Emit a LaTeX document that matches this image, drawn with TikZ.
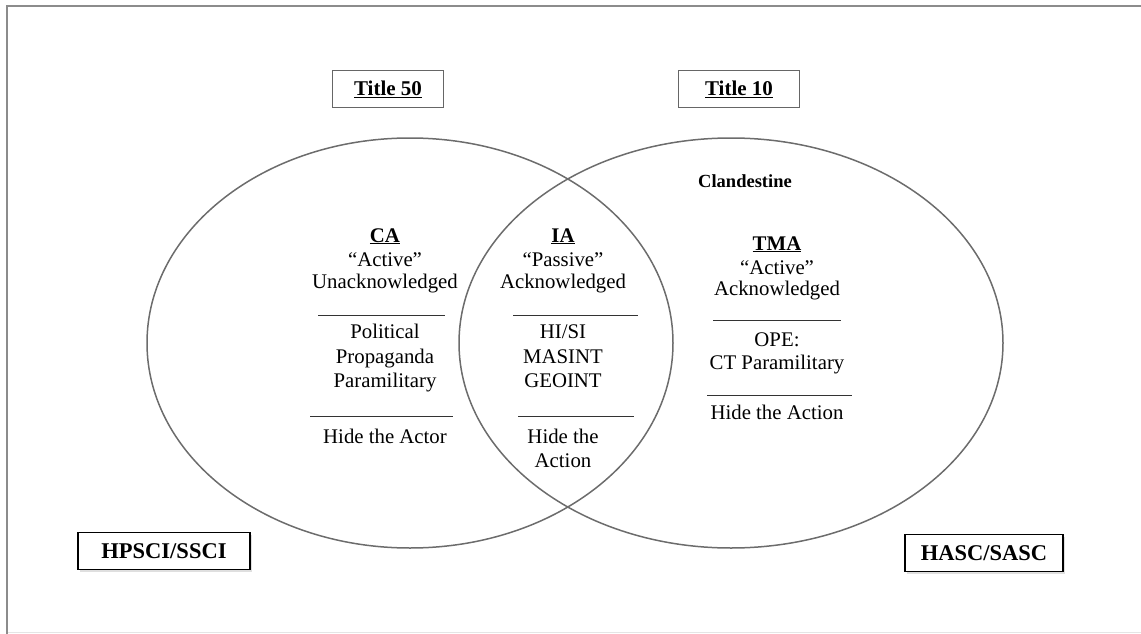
\documentclass[tikz,border=0pt]{standalone}
\usepackage{fontspec}
\setmainfont{Liberation Serif}
\usetikzlibrary{shadows}
\begin{document}
\begin{tikzpicture}[x=1pt,y=-1pt,
  txt/.style={anchor=base, inner sep=0pt, font=\fontsize{20.8}{24}\selectfont},
  ctxt/.style={anchor=base, inner sep=0pt, font=\fontsize{18.5}{22}\selectfont\bfseries},
  titlebox/.style={draw=gray!80!black, line width=1pt, minimum height=36pt, inner sep=0pt, font=\fontsize{21}{24}\selectfont\bfseries},
  combox/.style={draw=black, line width=1.6pt, fill=white, minimum height=37pt, inner sep=0pt, font=\fontsize{22.5}{25}\selectfont\bfseries, drop shadow={opacity=0.25, shadow xshift=2pt, shadow yshift=-2pt}},
  ring/.style={draw=gray!85!black, line width=1.5pt},
  sep/.style={draw=black!80, line width=0.9pt}]
\useasboundingbox (0,0) rectangle (1141,634);
% frame
\draw[gray!20, line width=1pt] (7,632) -- (1141,632);
\draw[gray!90, line width=1.6pt] (7,634) -- (7,6) -- (1141,6);
% circles
\draw[ring] (410,343) ellipse [x radius=263, y radius=205];
\draw[ring] (731,343) ellipse [x radius=272, y radius=205];
% titles
\node[titlebox, minimum width=111pt] (t50) at (388,89) {\underline{Title 50}};
\node[titlebox, minimum width=121pt] (t10) at (739,89) {\underline{Title 10}};
\node[ctxt] (cland) at (745,187) {Clandestine};
% CA column
\node[txt] (ca1) at (385,242) {\textbf{\underline{CA}}};
\node[txt] (ca2) at (385,266) {“Active”};
\node[txt] (ca3) at (385,288) {Unacknowledged};
\draw[sep] (318,315) -- (445,315);
\node[txt] (ca4) at (385,338) {Political};
\node[txt] (ca5) at (385,363) {Propaganda};
\node[txt] (ca6) at (385,387) {Paramilitary};
\draw[sep] (310,416) -- (453,416);
\node[txt] (ca7) at (385,443) {Hide the Actor};
% IA column
\node[txt] (ia1) at (563,242) {\textbf{\underline{IA}}};
\node[txt] (ia2) at (563,266) {“Passive”};
\node[txt] (ia3) at (563,288) {Acknowledged};
\draw[sep] (513,315) -- (638,315);
\node[txt] (ia4) at (563,338) {HI/SI};
\node[txt] (ia5) at (563,363) {MASINT};
\node[txt] (ia6) at (563,387) {GEOINT};
\draw[sep] (518,416) -- (634,416);
\node[txt] (ia7) at (563,443) {Hide the};
\node[txt] (ia8) at (563,467) {Action};
% TMA column
\node[txt] (tm1) at (777,250) {\textbf{\underline{TMA}}};
\node[txt] (tm2) at (777,274) {“Active”};
\node[txt] (tm3) at (777,295) {Acknowledged};
\draw[sep] (713,320) -- (841,320);
\node[txt] (tm4) at (777,346) {OPE:};
\node[txt] (tm5) at (777,369) {CT Paramilitary};
\draw[sep] (707,395) -- (852,395);
\node[txt] (tm6) at (777,419) {Hide the Action};
% committees
\node[combox, minimum width=172pt] (hp) at (164,551) {HPSCI/SSCI};
\node[combox, minimum width=158pt] (ha) at (984,553) {HASC/SASC};
\end{tikzpicture}
\end{document}
